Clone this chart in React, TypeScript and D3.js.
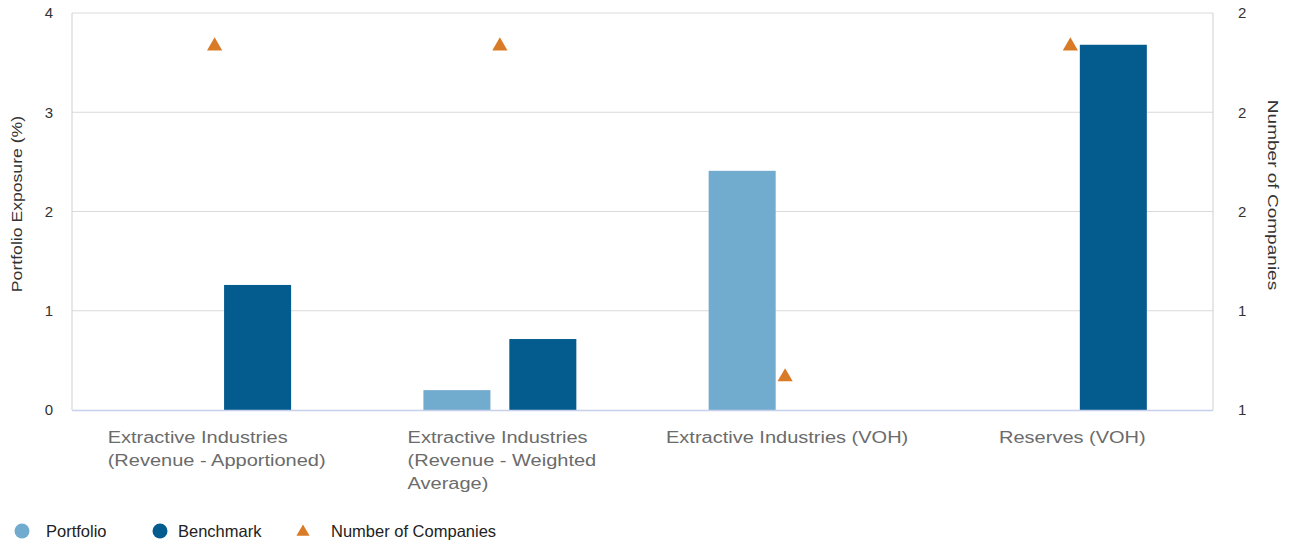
import React, { useRef, useEffect } from "react";
import * as d3 from "d3";

const categories = [
    "Extractive Industries (Revenue - Apportioned)",
    "Extractive Industries (Revenue - Weighted Average)",
    "Extractive Industries (VOH)",
    "Reserves (VOH)",
];
const categoryLines = [
    ["Extractive Industries", "(Revenue - Apportioned)"],
    ["Extractive Industries", "(Revenue - Weighted", "Average)"],
    ["Extractive Industries (VOH)"],
    ["Reserves (VOH)"],
];
const seriesNames = ["Portfolio", "Benchmark"];
const portfolio = [0, 0.2, 2.41, 0];
const benchmark = [1.26, 0.715, 0, 3.68];
const companies = [2, 2, 1, 2];
const leftTicks = [0, 1, 2, 3, 4];
const rightTicks = [0.9, 1.2, 1.5, 1.8, 2.1];

const W = 1290;
const H = 543;
const COLORS: Record<string, string> = { Portfolio: "#71abcd", Benchmark: "#045b8e" };
const TRI = "#d97a26";
const FONT = "'Liberation Sans', Arial, sans-serif";

const App: React.FC = () => {
    const ref = useRef<SVGSVGElement | null>(null);

    useEffect(() => {
        if (!ref.current) return;
        document.body.style.margin = "0";
        const svg = d3.select(ref.current);
        svg.selectAll("*").remove();

        const margin = { top: 13, right: 77, bottom: 133, left: 72 };
        const x0 = d3
            .scaleBand()
            .domain(categories)
            .range([margin.left, W - margin.right])
            .padding(0);
        const x1 = d3
            .scaleBand()
            .domain(seriesNames)
            .range([0, x0.bandwidth()])
            .paddingInner(0.22)
            .paddingOuter(0.77);
        const y = d3.scaleLinear().domain([0, 4]).range([H - margin.bottom, margin.top]);
        const yR = d3.scaleLinear().domain([0.9, 2.1]).range([H - margin.bottom, margin.top]);

        // grid
        svg
            .append("g")
            .selectAll("line")
            .data(leftTicks.slice(1))
            .enter()
            .append("line")
            .attr("x1", margin.left)
            .attr("x2", W - margin.right)
            .attr("y1", d => y(d))
            .attr("y2", d => y(d))
            .attr("stroke", "#dadada")
            .attr("stroke-width", 1);

        svg
            .append("line")
            .attr("x1", margin.left)
            .attr("x2", margin.left)
            .attr("y1", margin.top)
            .attr("y2", y(0))
            .attr("stroke", "#cfcfcf");
        svg
            .append("line")
            .attr("x1", W - margin.right)
            .attr("x2", W - margin.right)
            .attr("y1", margin.top)
            .attr("y2", y(0))
            .attr("stroke", "#cfcfcf");

        // bars
        const groups = svg
            .append("g")
            .selectAll("g")
            .data(categories)
            .enter()
            .append("g")
            .attr("transform", d => `translate(${x0(d)},0)`);

        groups
            .selectAll("rect")
            .data((_, i) => [
                { key: "Portfolio", value: portfolio[i] },
                { key: "Benchmark", value: benchmark[i] },
            ])
            .enter()
            .filter(d => d.value > 0)
            .append("rect")
            .attr("x", d => x1(d.key)!)
            .attr("y", d => y(d.value))
            .attr("width", x1.bandwidth())
            .attr("height", d => y(0) - y(d.value))
            .attr("fill", d => COLORS[d.key]);

        // baseline
        svg
            .append("line")
            .attr("x1", margin.left)
            .attr("x2", W - margin.right)
            .attr("y1", y(0) + 0.5)
            .attr("y2", y(0) + 0.5)
            .attr("stroke", "#c8d0ec")
            .attr("stroke-width", 1.5);

        // triangles
        svg
            .append("g")
            .selectAll("path")
            .data(companies)
            .enter()
            .append("path")
            .attr("d", d3.symbol().type(d3.symbolTriangle).size(100)() as string)
            .attr("transform", (d, i) => `translate(${x0(categories[i])! + x0.bandwidth() / 2},${yR(d)})`)
            .attr("fill", TRI);

        // left ticks
        svg
            .append("g")
            .selectAll("text")
            .data(leftTicks)
            .enter()
            .append("text")
            .attr("x", 53)
            .attr("y", d => y(d))
            .attr("dy", "0.35em")
            .attr("text-anchor", "end")
            .attr("font-family", FONT)
            .attr("font-size", 15)
            .attr("fill", "#333")
            .text(d => d3.format("d")(d));

        // right ticks
        const fmtR = (v: number) => v.toFixed(0);
        svg
            .append("g")
            .selectAll("text")
            .data(rightTicks)
            .enter()
            .append("text")
            .attr("x", 1238)
            .attr("y", d => yR(d))
            .attr("dy", "0.35em")
            .attr("text-anchor", "start")
            .attr("font-family", FONT)
            .attr("font-size", 15)
            .attr("fill", "#333")
            .text(d => fmtR(d));

        // axis titles
        svg
            .append("text")
            .attr("transform", `translate(22,204) rotate(-90) scale(1.26,1)`)
            .attr("text-anchor", "middle")
            .attr("font-family", FONT)
            .attr("font-size", 14)
            .attr("fill", "#333")
            .text("Portfolio Exposure (%)");
        svg
            .append("text")
            .attr("transform", `translate(1268,195) rotate(90) scale(1.36,1)`)
            .attr("text-anchor", "middle")
            .attr("font-family", FONT)
            .attr("font-size", 14)
            .attr("fill", "#333")
            .text("Number of Companies");

        // category labels
        const sx = 1.25;
        categories.forEach((c, i) => {
            const g = svg.append("g");
            const texts = categoryLines[i].map((line, j) =>
                g
                    .append("text")
                    .attr("transform", `translate(0,${j * 23}) scale(${sx},1)`)
                    .attr("font-family", FONT)
                    .attr("font-size", 16)
                    .attr("fill", "#6b6b6b")
                    .text(line)
            );
            const maxW = d3.max(texts, t => (t.node() as SVGTextElement).getComputedTextLength())! * sx;
            const cx = x0(c)! + x0.bandwidth() / 2;
            g.attr("transform", `translate(${cx - maxW / 2 + 2},443)`);
        });

        // legend
        const legend = svg.append("g");
        const items = [
            { label: "Portfolio", kind: "circle", color: COLORS.Portfolio, mx: 22, tx: 46 },
            { label: "Benchmark", kind: "circle", color: COLORS.Benchmark, mx: 160, tx: 178 },
            { label: "Number of Companies", kind: "tri", color: TRI, mx: 303, tx: 331 },
        ];
        items.forEach(it => {
            if (it.kind === "circle") {
                legend.append("circle").attr("cx", it.mx).attr("cy", 531).attr("r", 7.5).attr("fill", it.color);
            } else {
                legend
                    .append("path")
                    .attr("d", d3.symbol().type(d3.symbolTriangle).size(75)() as string)
                    .attr("transform", `translate(${it.mx},532)`)
                    .attr("fill", it.color);
            }
            legend
                .append("text")
                .attr("x", it.tx)
                .attr("y", 537)
                .attr("font-family", FONT)
                .attr("font-size", 16.5)
                .attr("fill", "#222")
                .text(it.label);
        });
    }, []);

    return (
        <div style={{ position: "absolute", left: 0, top: 0 }}>
            <svg ref={ref} width={W} height={H} style={{ display: "block", background: "#fff" }} />
        </div>
    );
};

export default App;
